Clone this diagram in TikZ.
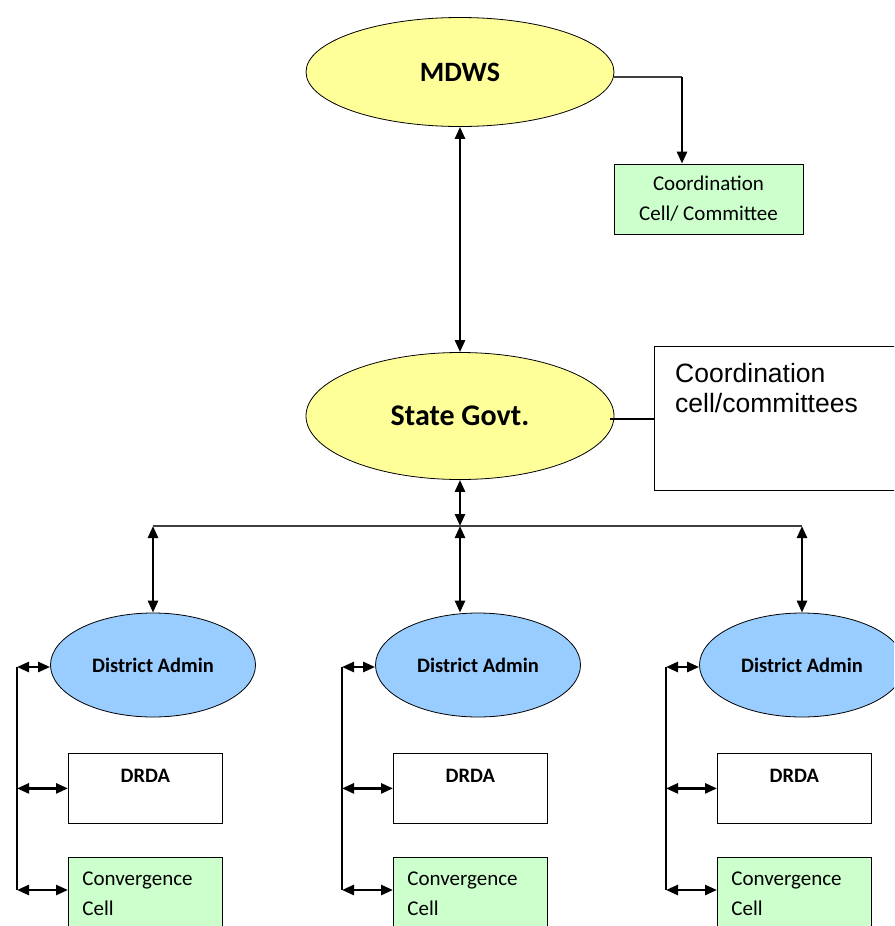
\documentclass[tikz,border=0pt]{standalone}
\usepackage{fontspec}
\setmainfont{Carlito}
\newfontfamily\arialfont{Liberation Sans}
\usepackage{tikz}
\usetikzlibrary{shapes.geometric,arrows.meta}
\definecolor{ovalyellow}{HTML}{FFFF99}
\definecolor{ovalblue}{HTML}{99CCFF}
\definecolor{cellgreen}{HTML}{CCFFCC}

\begin{document}
\begin{tikzpicture}[x=1pt,y=-1pt,
    bigoval/.style={ellipse,draw,line width=0.8pt,fill=ovalyellow,minimum width=308pt},
    distoval/.style={ellipse,draw,line width=0.8pt,fill=ovalblue,minimum width=205pt,minimum height=104pt,
        font=\fontsize{20.5}{24}\selectfont\bfseries},
    drdabox/.style={rectangle,draw,line width=0.8pt,minimum width=154pt,inner sep=0pt,
        text height=29pt,text depth=41pt,font=\fontsize{20.5}{24}\selectfont\bfseries},
    convbox/.style={rectangle,draw,line width=0.8pt,fill=cellgreen,inner xsep=14pt,inner ysep=0pt,
        text width=126pt,align=left,text height=28pt,text depth=64pt,font=\fontsize{21}{30}\selectfont},
    thinline/.style={line width=1.3pt,black!75},
    sgl/.style={-{Triangle[length=12pt,width=10pt]},line width=2.6pt},
    dbl/.style={{Triangle[length=12pt,width=10pt]}-{Triangle[length=12pt,width=10pt]},line width=2.6pt}]
  \clip (0,0) rectangle (894,926);
  \node[bigoval,minimum height=109pt,font=\fontsize{28}{32}\selectfont\bfseries] (mdws) at (460,72) {MDWS};
  \node[bigoval,minimum height=127pt,font=\fontsize{30}{34}\selectfont\bfseries] (state) at (460,416) {State Govt.};
  \node[rectangle,draw,line width=0.8pt,fill=cellgreen,minimum width=189pt,minimum height=70pt,align=center,
        font=\fontsize{21}{30}\selectfont] (ccell) at (708.5,199) {Coordination\\Cell/ Committee};
  \node[rectangle,draw,line width=1.2pt,minimum width=260pt,minimum height=144pt,anchor=north west] (cbox) at (654,346) {};
  \node[anchor=base west,inner sep=0pt,text width=220pt,align=left,
        font=\arialfont\fontsize{26.5}{30}\selectfont] (cboxtext) at (675,382) {Coordination\\cell/committees};

  \coordinate (bend) at (682,77);
  \draw[thinline] (mdws.east |- bend) -- (bend);
  \draw[sgl] (bend) -- (ccell.north -| bend);
  \draw[dbl] (mdws.south) -- (state.north);
  \draw[line width=2pt] (state.east |- cbox.west) ++(-4,0) -- (cbox.west);

  \coordinate (j) at (460,526);
  \coordinate (jl) at (153,526);
  \coordinate (jr) at (802,526);
  \draw[dbl] (state.south) -- (j);
  \draw[thinline] (jl) -- (jr);

  \foreach \n/\ax/\ex/\lx in {1/153/153/17, 2/460/478/342, 3/802/802/666}{
    \node[distoval] (da\n) at (\ex,665) {District Admin};
    \node[drdabox,anchor=north west] (drda\n) at (\lx+51,753) {DRDA};
    \node[convbox,anchor=north west] (conv\n) at (\lx+51,857) {Convergence\\Cell};
    \coordinate (top\n) at (\ax,526);
    \coordinate (rail\n) at (\lx,667);
    \coordinate (low\n) at (\lx,890);
    \draw[dbl] (top\n) -- (top\n |- da\n.north);
    \draw[line width=1.5pt] (rail\n) -- (low\n);
    \draw[dbl] (rail\n) -- (rail\n -| da\n.west);
    \draw[dbl] (drda\n.west -| rail\n) -- (drda\n.west);
    \draw[dbl] (low\n) -- (low\n -| conv\n.west);
  }
\end{tikzpicture}
\end{document}
